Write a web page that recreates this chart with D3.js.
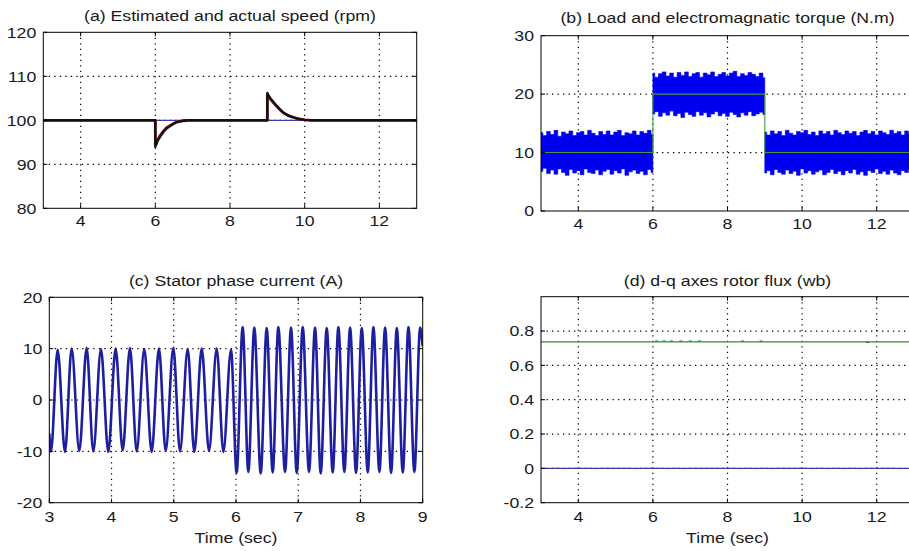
<!DOCTYPE html>
<html>
<head>
<meta charset="utf-8">
<script src="https://cdnjs.cloudflare.com/ajax/libs/d3/7.8.5/d3.min.js"></script>
<style>
    body { margin: 0; background: #fff; }
</style>
</head>
<body>
<div id="chart"></div>
<script>
"use strict"

/* ---- data ---- */

// (a) speed, rpm
let speedRefT = [3, 13];
let speedRefV = [100, 100];
let speedT = [3, 6.0, 6.0, 6.06, 6.13, 6.22, 6.31, 6.45, 6.57, 6.75, 6.9, 9.0, 9.0, 9.08, 9.18, 9.27, 9.36, 9.45, 9.58, 9.72, 9.85, 10.0, 10.2, 13];
let speedActV = [100, 100, 94.0, 95.3, 96.3, 97.4, 98.2, 99.0, 99.6, 99.9, 100, 100, 106.2, 105.0, 104.0, 103.1, 102.3, 101.6, 101.0, 100.6, 100.3, 100.1, 100, 100];
let speedEstV = [100, 100, 94.4, 95.6, 96.6, 97.6, 98.4, 99.1, 99.6, 99.9, 100, 100, 105.8, 104.8, 103.8, 103.0, 102.2, 101.6, 101.0, 100.6, 100.3, 100.1, 100, 100];

// (b) torque, N.m  (electromagnetic torque band, sampled every 0.1 s per segment)
let loadT = [3, 6, 6, 9, 9, 13];
let loadV = [10, 10, 20, 20, 10, 10];
let teSegStart = [3, 6, 9];
let teUp1 = [13.4, 12.9, 13.6, 13.1, 13.8, 12.8, 13.5, 13.2, 13.7, 12.9, 13.4, 13.6, 13.0, 13.8, 13.3, 12.9, 13.6, 13.1, 13.7, 13.0, 13.5, 13.8, 12.9, 13.4, 13.2, 13.7, 13.0, 13.6, 13.3, 13.8, 13.1];
let teLo1 = [6.8, 7.3, 6.4, 7.0, 6.3, 7.2, 6.6, 6.1, 7.1, 6.5, 6.9, 6.2, 7.2, 6.6, 6.4, 7.0, 6.2, 6.8, 7.1, 6.3, 6.9, 6.5, 7.2, 6.1, 6.7, 7.0, 6.4, 6.8, 6.2, 7.1, 6.6];
let teUp2 = [23.6, 22.9, 23.5, 23.8, 23.1, 23.6, 22.9, 23.7, 23.2, 23.8, 23.0, 23.5, 23.7, 22.9, 23.6, 23.3, 23.8, 23.0, 23.4, 23.7, 23.1, 23.6, 23.9, 23.0, 23.5, 23.2, 23.7, 23.4, 23.0, 23.6, 22.8];
let teLo2 = [16.6, 17.0, 16.2, 16.8, 16.4, 17.1, 16.3, 16.7, 16.0, 16.9, 16.5, 16.2, 17.0, 16.4, 16.8, 16.1, 16.6, 17.0, 16.3, 16.7, 16.2, 16.9, 16.5, 16.1, 16.8, 16.4, 17.0, 16.3, 16.6, 16.9, 16.5];
let teUp3 = [13.5, 13.0, 13.7, 13.2, 13.6, 12.9, 13.8, 13.3, 13.0, 13.6, 13.4, 13.8, 13.1, 13.5, 12.9, 13.7, 13.2, 13.6, 13.0, 13.8, 13.4, 13.1, 13.7, 13.3, 13.6, 12.9, 13.5, 13.8, 13.2, 13.6, 13.0, 13.7, 13.4, 13.1, 13.8, 13.3, 13.6, 13.0, 13.7, 13.2, 13.5];
let teLo3 = [6.5, 6.9, 6.2, 7.1, 6.6, 6.3, 7.0, 6.4, 6.8, 6.1, 7.2, 6.5, 6.9, 6.3, 6.7, 7.0, 6.2, 6.6, 7.1, 6.4, 6.8, 6.2, 6.9, 6.5, 7.1, 6.3, 6.7, 6.1, 6.9, 6.6, 7.2, 6.4, 6.8, 6.3, 7.0, 6.5, 6.2, 6.9, 6.6, 7.1, 6.4];

// (c) stator phase current, A  (peaks and troughs)
let currentT = [3.0, 3.027, 3.134, 3.252, 3.359, 3.482, 3.600, 3.707, 3.830, 3.948, 4.066, 4.179, 4.296, 4.404, 4.526, 4.645, 4.762, 4.870, 4.993, 5.100, 5.224, 5.330, 5.449, 5.566, 5.690, 5.797, 5.920, 6.010, 6.107, 6.198, 6.294, 6.397, 6.493, 6.590, 6.680, 6.788, 6.884, 6.976, 7.072, 7.173, 7.270, 7.361, 7.458, 7.554, 7.645, 7.741, 7.833, 7.929, 8.021, 8.117, 8.208, 8.304, 8.396, 8.492, 8.584, 8.680, 8.771, 8.866, 8.959, 9.0];
let currentV = [-6.5, -10.0, 9.8, -10.1, 10.0, -9.9, 10.1, -10.0, 9.9, -10.1, 10.0, -9.8, 10.1, -10.0, 9.9, -10.1, 10.0, -9.9, 10.1, -10.0, 9.9, -10.1, 10.0, -9.9, 10.0, -10.1, 9.8, -14.2, 14.2, -14.0, 14.1, -14.3, 14.0, -14.1, 14.2, -14.0, 14.1, -14.2, 14.2, -14.0, 14.1, -14.3, 14.0, -14.1, 14.2, -14.0, 14.1, -14.2, 14.0, -14.1, 14.2, -14.0, 14.1, -14.2, 14.0, -14.1, 14.2, -14.0, 14.1, 10.5];

// (d) rotor flux, wb
let fluxT = [3, 13];
let fluxDV = [0.737, 0.737];
let fluxQV = [0, 0];
let fluxBlipT = [6.1, 6.3, 6.5, 6.75, 7.0, 7.25, 8.4, 8.9, 11.75];
let fluxBlipV = [0.742, 0.742, 0.742, 0.742, 0.742, 0.742, 0.742, 0.742, 0.734];

// axis ticks
let ticksA_x = [4, 6, 8, 10, 12];
let ticksA_y = [80, 90, 100, 110, 120];
let ticksB_x = [4, 6, 8, 10, 12];
let ticksB_y = [0, 10, 20, 30];
let ticksC_x = [3, 4, 5, 6, 7, 8, 9];
let ticksC_y = [-20, -10, 0, 10, 20];
let ticksD_x = [4, 6, 8, 10, 12];
let ticksD_y = [-0.2, 0, 0.2, 0.4, 0.6, 0.8];

/* ---- canvas ---- */
let svgWidth = 909;
let svgHeight = 551;

let svg = d3.select("#chart")
    .append("svg")
    .attr("width", svgWidth)
    .attr("height", svgHeight)
    .style("display", "block");

svg.append("rect").attr("width", svgWidth).attr("height", svgHeight).attr("fill", "#fff");

// text in the picture is a bit stretched sideways, so scale it the same way
function addText(x, y, str, anchor) {
    return svg.append("text")
        .attr("transform", "translate(" + x + "," + y + ") scale(1.18,1)")
        .attr("text-anchor", anchor)
        .style("font-family", "'Liberation Sans', Arial, sans-serif")
        .style("font-size", "15px")
        .attr("fill", "#1a1a1a")
        .text(str);
}

let clipCount = 0;

function makePanel(box, xDomain, yDomain, xTicks, yTicks, title, xLab) {
    let x = d3.scaleLinear().domain(xDomain).range([box.left, box.right]);
    let y = d3.scaleLinear().domain(yDomain).range([box.bottom, box.top]);
    let g = svg.append("g");

    clipCount++;
    let clipId = "clip" + clipCount;
    svg.append("clipPath").attr("id", clipId)
        .append("rect")
        .attr("x", box.left).attr("y", box.top)
        .attr("width", box.right - box.left).attr("height", box.bottom - box.top);

    /* dotted grid */
    for (let t of xTicks) {
        if (t == xDomain[0] || t == xDomain[1]) continue;
        g.append("line")
            .attr("x1", x(t)).attr("x2", x(t))
            .attr("y1", box.top).attr("y2", box.bottom)
            .attr("stroke", "#000").attr("stroke-width", 1.2)
            .attr("stroke-dasharray", "1.3,4.2");
    }
    for (let t of yTicks) {
        if (t == yDomain[0] || t == yDomain[1]) continue;
        g.append("line")
            .attr("x1", box.left).attr("x2", box.right)
            .attr("y1", y(t)).attr("y2", y(t))
            .attr("stroke", "#000").attr("stroke-width", 1.2)
            .attr("stroke-dasharray", "1.3,4.2");
    }

    let plot = svg.append("g").attr("clip-path", "url(#" + clipId + ")");

    /* tick labels */
    for (let t of xTicks) {
        addText(x(t), box.bottom + box.xLabGap, String(t), "middle");
    }
    for (let t of yTicks) {
        addText(box.left - 7, y(t) + 5.3, String(t), "end");
    }
    addText((box.left + box.right) / 2, box.titleY, title, "middle");
    if (xLab) {
        addText((box.left + box.right) / 2, box.bottom + 40, xLab, "middle");
    }

    return { x: x, y: y, plot: plot, box: box, xTicks: xTicks, yTicks: yTicks };
}

// frame and inward ticks go on top of the data
function finishPanel(p) {
    let b = p.box;
    let g = svg.append("g").attr("stroke", "#000").attr("stroke-width", 1);
    for (let t of p.xTicks) {
        g.append("line").attr("x1", p.x(t)).attr("x2", p.x(t)).attr("y1", b.bottom).attr("y2", b.bottom - 4);
        g.append("line").attr("x1", p.x(t)).attr("x2", p.x(t)).attr("y1", b.top).attr("y2", b.top + 4);
    }
    for (let t of p.yTicks) {
        g.append("line").attr("x1", b.left).attr("x2", b.left + 4).attr("y1", p.y(t)).attr("y2", p.y(t));
        g.append("line").attr("x1", b.right).attr("x2", b.right - 4).attr("y1", p.y(t)).attr("y2", p.y(t));
    }
    g.append("rect")
        .attr("x", b.left).attr("y", b.top)
        .attr("width", b.right - b.left).attr("height", b.bottom - b.top)
        .attr("fill", "none");
}

function drawLine(p, ts, vs, color, width, curve) {
    let line = d3.line()
        .x(function (d) { return p.x(d[0]); })
        .y(function (d) { return p.y(d[1]); })
        .curve(curve || d3.curveLinear);
    p.plot.append("path")
        .datum(ts.map(function (t, i) { return [t, vs[i]]; }))
        .attr("d", line)
        .attr("fill", "none")
        .attr("stroke", color)
        .attr("stroke-width", width)
        .attr("stroke-linejoin", "round");
}

/* ---- (a) estimated and actual speed ---- */
let pa = makePanel({ left: 43.3, right: 416.7, top: 32.3, bottom: 208.3, xLabGap: 17.5, titleY: 20.5 },
    [3, 13], [80, 120], ticksA_x, ticksA_y, "(a) Estimated and actual speed (rpm)", null);
drawLine(pa, speedRefT, speedRefV, "#3f3fa8", 1.2);
drawLine(pa, speedT, speedEstV, "#b01818", 2.8);
drawLine(pa, speedT, speedActV, "#111", 2.4);
finishPanel(pa);

/* ---- (b) load and electromagnetic torque ---- */
let pb = makePanel({ left: 541, right: 914, top: 35.7, bottom: 211, xLabGap: 18, titleY: 23.3 },
    [3, 13], [0, 30], ticksB_x, ticksB_y, "(b) Load and electromagnatic torque (N.m)", null);
let teUpper = [teUp1, teUp2, teUp3];
let teLower = [teLo1, teLo2, teLo3];
for (let s = 0; s < teSegStart.length; s++) {
    let pts = teUpper[s].map(function (u, i) {
        return { t: teSegStart[s] + i * 0.1, up: u, lo: teLower[s][i] };
    });
    let area = d3.area()
        .x(function (d) { return pb.x(d.t); })
        .y0(function (d) { return pb.y(d.lo); })
        .y1(function (d) { return pb.y(d.up); })
        .curve(d3.curveStep);
    pb.plot.append("path")
        .datum(pts)
        .attr("d", area)
        .attr("fill", "#0000f0")
        .attr("stroke", "#0000f0")
        .attr("stroke-width", 0.6);
}
drawLine(pb, loadT, loadV, "#3d9d3d", 1.1);
finishPanel(pb);

/* ---- (c) stator phase current ---- */
let pc = makePanel({ left: 49.3, right: 422.7, top: 297.3, bottom: 502.7, xLabGap: 19.5, titleY: 286 },
    [3, 9], [-20, 20], ticksC_x, ticksC_y, "(c) Stator phase current (A)", "Time (sec)");
drawLine(pc, currentT, currentV, "#1e1ea0", 2.6, d3.curveMonotoneX);
finishPanel(pc);

/* ---- (d) d-q axes rotor flux ---- */
let pd = makePanel({ left: 541, right: 914, top: 296.7, bottom: 502.7, xLabGap: 19.5, titleY: 286 },
    [3, 13], [-0.2, 1.0], ticksD_x, ticksD_y, "(d) d-q axes rotor flux (wb)", "Time (sec)");
drawLine(pd, fluxT, fluxQV, "#3a3aa6", 1.2);
drawLine(pd, fluxT, fluxDV, "#2f8f2f", 1.2);
pd.plot.selectAll(".blip")
    .data(fluxBlipT)
    .join("line")
    .attr("x1", function (t) { return pd.x(t) - 1.5; })
    .attr("x2", function (t) { return pd.x(t) + 1.5; })
    .attr("y1", function (t, i) { return pd.y(fluxBlipV[i]); })
    .attr("y2", function (t, i) { return pd.y(fluxBlipV[i]); })
    .attr("stroke", "#2a6a2a")
    .attr("stroke-width", 1.2);
finishPanel(pd);
</script>
</body>
</html>
